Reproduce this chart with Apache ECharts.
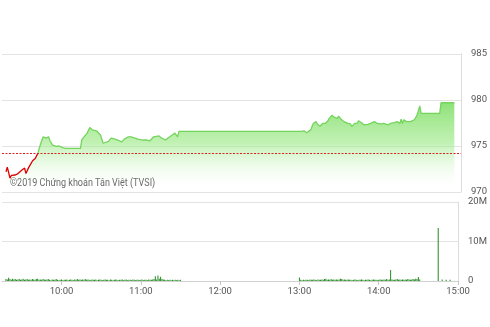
<!DOCTYPE html>
<html>
<head>
<meta charset="utf-8">
<script src="https://cdn.jsdelivr.net/npm/echarts@6/dist/echarts.min.js"></script>
<style>
html,body{margin:0;padding:0;background:#fff;}
#c{width:490px;height:327px;}
</style>
</head>
<body>
<div id="c"></div>
<script>
// time in minutes since midnight
var priceTimes = [558,559,561,562,563,565,566,567,568,570,571,572,573,575,576,577,578,580,581,582,
  583,585,586,588,590,591,593,596,598,601,603,614,615,616,619,621,623,626,629,631,632,635,637,640,642,645,647,650,652,655,657,661,664,666,669,673,675,678,680,683,685,687,688,690,
  780,782,784,787,789,791,792,793,794,796,797,798,800,801,802,803,805,806,807,808,810,811,812,813,815,816,817,818,820,821,822,823,825,826,827,828,830,831,832,833,835,837,840,842,845,847,850,852,854,855,856,857,859,860,862,865,866,867,869,870,884,885,895];
var priceValues = [972.2,972.7,971.5,971.8,971.6,971.85,971.75,972.0,972.2,972.4,972.3,972.6,972.0,972.65,972.9,973.1,973.4,973.65,973.95,974.2,
  974.75,975.65,976.0,975.85,976.0,975.6,975.1,974.95,975.0,974.8,974.75,974.75,975.7,975.65,976.4,977.0,976.75,976.65,976.2,975.3,975.2,975.5,975.85,975.75,975.65,975.45,975.75,976.0,976.0,975.85,975.75,975.65,975.65,975.55,976.0,976.1,975.85,975.65,975.9,976.2,976.4,976.0,976.6,976.6,
  976.6,976.65,976.45,976.75,977.45,977.65,977.4,977.45,977.15,977.45,977.65,977.45,977.75,978.0,978.2,978.35,978.1,978.25,978.0,978.25,977.9,978.0,977.65,977.85,977.45,977.65,977.4,977.1,977.45,977.65,977.45,977.75,977.55,977.45,977.3,977.45,977.35,977.55,977.45,977.3,977.65,977.45,977.4,977.45,977.3,977.45,977.55,977.65,977.45,977.9,977.45,977.85,977.65,977.45,977.65,977.85,977.9,978.35,979.35,978.55,978.55,979.7,979.7];
var refPrice = 974.2;

// volume in millions: morning from 9:18 (558), afternoon from 13:00 (780)
var volAMStart = 558;
var volAM = [0.5,0.4,0.85,0.5,0.3,0.6,0.4,0.5,0.3,0.4,
  0.5,0.3,0.4,0.6,0.3,0.4,0.5,0.3,0.4,0.3,
  0.5,0.4,0.3,0.5,0.6,0.3,0.4,0.3,0.5,0.4,
  0.3,0.4,0.5,0.3,0.2,0.4,0.3,0.3,0.5,0.3,
  0.2,0.3,0.4,0.2,0.3,0.3,0.4,0.2,0.3,0.4,
  0.3,0.2,0.4,0.3,0.5,0.3,0.4,0.3,0.4,0.3,
  0.5,0.3,0.4,0.3,0.2,0.4,0.3,0.3,0.4,0.2,
  0.3,0.4,0.3,0.2,0.3,0.4,0.3,0.3,0.2,0.4,
  0.3,0.2,0.3,0.4,0.3,0.2,0.3,0.3,0.4,0.2,
  0.3,0.4,0.2,0.3,0.3,0.2,0.4,0.3,0.2,0.3,
  0.3,0.2,0.3,0.4,0.2,0.3,0.3,0.2,0.4,0.3,
  0.3,0.4,0.5,1.2,0.4,1.4,0.6,1.1,0.5,0.4,
  0.3,0.2,0.3,0.2,0.3,0.2,0.3,0.2,0.3,0.2,
  0.3,0.2,0.3];
var volPMStart = 780;
var volPM = [0.9,0.3,0.2,0.3,0.2,0.3,0.3,0.2,0.4,0.3,
  0.3,0.4,0.3,0.2,0.4,0.3,0.3,0.4,0.3,0.5,
  0.6,0.3,0.4,0.3,0.5,0.3,0.4,0.3,0.4,0.3,
  0.4,0.6,0.5,0.3,0.4,0.3,0.3,0.4,0.3,0.3,
  0.2,0.3,0.4,0.3,0.2,0.3,0.3,0.4,0.3,0.2,
  0.3,0.3,0.4,0.3,0.2,0.3,0.4,0.3,0.3,0.2,
  0.3,0.4,0.3,0.3,0.4,0.3,0.5,0.3,0.4,2.8,
  0.4,0.3,0.3,0.4,0.5,0.3,0.4,0.3,0.4,0.3,
  0.4,0.3,0.5,0.4,0.3,0.4,0.5,0.4,0.6,0.5,
  1.0,0.4];
var volLateTimes = [885,888,891,894];
var volLate = [13.4,0.4,0.3,0.3];

var xTickValues = [600,660,720,780,840,900];
var priceTicks = [970,975,980,985];
var volTicks = [0,10,20];

var FONT = "Roboto,sans-serif";

function hhmm(v){var h=Math.floor(v/60),m=Math.round(v%60);return (h<10?'0':'')+h+':'+(m<10?'0':'')+m;}

var priceData = priceTimes.map(function(t,i){return [t,priceValues[i]];});
var volData = [];
volAM.forEach(function(v,i){volData.push([volAMStart+i, v*1e6]);});
volPM.forEach(function(v,i){volData.push([volPMStart+i, v*1e6]);});
volLate.forEach(function(v,i){volData.push([volLateTimes[i], v*1e6]);});

var chart = echarts.init(document.getElementById('c'), null, {renderer:'canvas'});
var labelStyle = {color:'#555', fontSize:9.5, fontFamily:FONT};
chart.setOption({
  animation:false,
  backgroundColor:'#fff',
  grid:[
    {left:2,right:29,top:54,height:138,containLabel:false},
    {left:2,right:29,top:202,height:79,containLabel:false}
  ],
  xAxis:[
    {type:'value',gridIndex:0,min:555,max:900,axisLine:{show:false},axisTick:{show:false},axisLabel:{show:false},splitLine:{show:false}},
    {type:'value',gridIndex:1,min:555,max:900,
      axisLine:{show:true,lineStyle:{color:'#d0d0d0'}},
      axisTick:{show:true,length:4,lineStyle:{color:'#c8c8c8'},customValues:xTickValues},
      axisLabel:Object.assign({customValues:xTickValues,margin:6,formatter:function(v){return hhmm(v);}},labelStyle),
      splitLine:{show:false}}
  ],
  yAxis:[
    {type:'value',gridIndex:0,position:'right',min:priceTicks[0],max:priceTicks[priceTicks.length-1],interval:5,
      axisLine:{show:true,lineStyle:{color:'#dcdcdc'}},axisTick:{show:false},
      axisLabel:Object.assign({margin:10},labelStyle),
      splitLine:{show:true,lineStyle:{color:'#e3e3e3'}}},
    {type:'value',gridIndex:1,position:'right',min:volTicks[0]*1e6,max:volTicks[volTicks.length-1]*1e6,interval:10e6,
      axisLine:{show:true,lineStyle:{color:'#dcdcdc'}},axisTick:{show:false},
      axisLabel:Object.assign({margin:10,formatter:function(v){return v===0?'0':(v/1e6)+'M';}},labelStyle),
      splitLine:{show:true,lineStyle:{color:'#e3e3e3'}}}
  ],
  visualMap:{type:'piecewise',show:false,seriesIndex:0,dimension:1,
    pieces:[{min:900,max:refPrice,color:'#e00000'},{gt:refPrice,max:1100,color:'#74d45c'}],
    outOfRange:{color:'#74d45c'}},
  series:[
    {type:'line',xAxisIndex:0,yAxisIndex:0,data:priceData,showSymbol:false,
      lineStyle:{width:1.3},
      areaStyle:{opacity:1,color:new echarts.graphic.LinearGradient(0,0,0,1,[
        {offset:0,color:'rgba(130,222,105,0.9)'},
        {offset:0.45,color:'rgba(160,234,140,0.65)'},
        {offset:1,color:'rgba(255,255,255,0)'}])},
      markLine:{symbol:'none',silent:true,label:{show:false},
        lineStyle:{color:'#e02020',type:[2,1.5],width:1,opacity:1},
        data:[{yAxis:refPrice}]},
      z:3},
    {type:'bar',xAxisIndex:1,yAxisIndex:1,data:volData,barWidth:1,itemStyle:{color:'#1f8a1f'}}
  ],
  graphic:[{type:'text',left:10,top:178,scaleX:0.82,style:{text:'©2019 Chứng khoán Tân Việt (TVSI)',fill:'#555',font:'11px '+FONT}}]
});
</script>
</body>
</html>
